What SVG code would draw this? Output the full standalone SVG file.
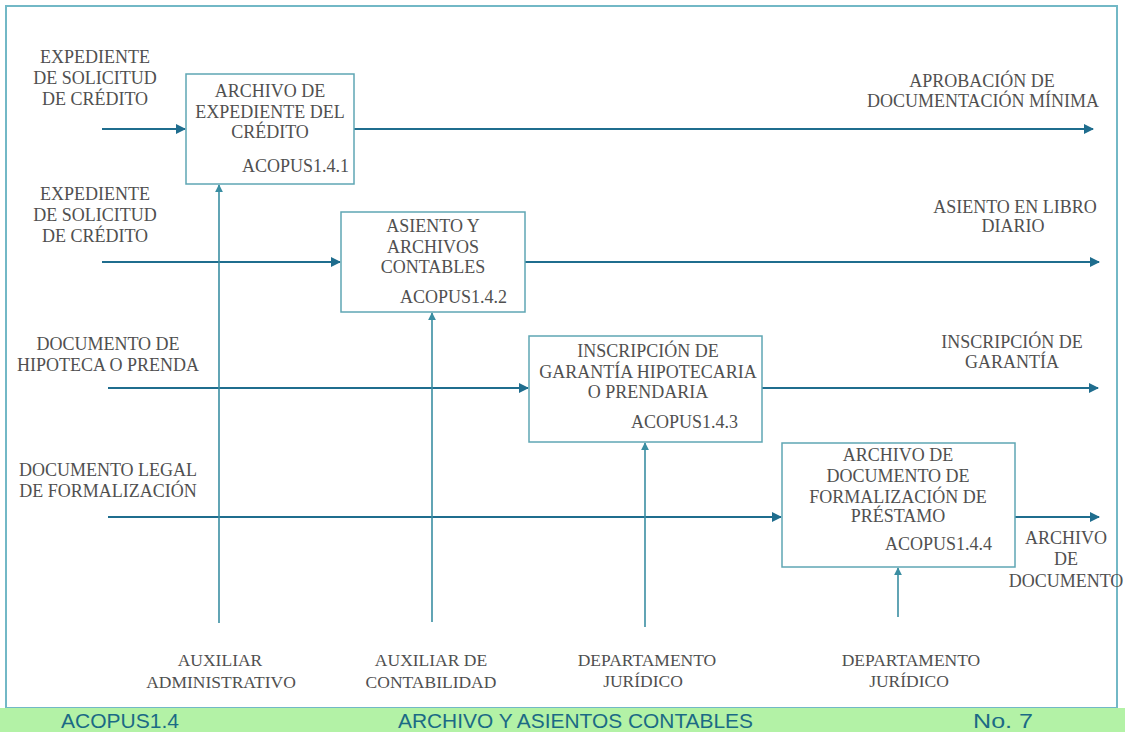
<svg xmlns="http://www.w3.org/2000/svg" width="1125" height="732" viewBox="0 0 1125 732">
  <defs>
    <style>
      .lbl { font-family: "Liberation Serif", "Times New Roman", serif; font-size: 18px; fill: #505050; text-anchor: middle; }
      .lbl-s { font-family: "Liberation Serif", "Times New Roman", serif; font-size: 17.5px; fill: #505050; text-anchor: middle; }
      .code { font-family: "Liberation Serif", "Times New Roman", serif; font-size: 18px; fill: #505050; text-anchor: end; }
      .box { fill: #ffffff; stroke: #5fa6b4; stroke-width: 1.5; }
      .flow { stroke: #1f6d8e; stroke-width: 2; fill: none; }
      .mech { stroke: #3a8ea2; stroke-width: 1.6; fill: none; }
      .foot { font-family: "Liberation Sans", Arial, sans-serif; font-size: 21px; fill: #1b6a85; }
    </style>
    <marker id="arrow" viewBox="0 0 10 10" refX="9" refY="5" markerWidth="5" markerHeight="5" orient="auto" markerUnits="strokeWidth">
      <path d="M0,0 L10,5 L0,10 z" fill="#1f6d8e"/>
    </marker>
    <marker id="arrow-up" viewBox="0 0 10 10" refX="9" refY="5" markerWidth="5" markerHeight="5" orient="auto" markerUnits="strokeWidth">
      <path d="M0,0 L10,5 L0,10 z" fill="#3a8ea2"/>
    </marker>
  </defs>

  <rect x="0" y="0" width="1125" height="732" fill="#ffffff"/>

  <!-- outer frame -->
  <rect x="6" y="6" width="1111" height="702" fill="none" stroke="#72b8c6" stroke-width="2"/>

  <!-- footer band -->
  <g id="footer">
    <rect x="0" y="708" width="1125" height="24" fill="#b3f2a6"/>
    <text class="foot" x="61" y="728" textLength="118" lengthAdjust="spacingAndGlyphs">ACOPUS1.4</text>
    <text class="foot" x="398" y="728" textLength="355" lengthAdjust="spacingAndGlyphs">ARCHIVO Y ASIENTOS CONTABLES</text>
    <text class="foot" x="973" y="728" textLength="60" lengthAdjust="spacingAndGlyphs">No. 7</text>
  </g>

  <!-- connectors -->
  <g id="connectors">
    <!-- inputs -->
    <line class="flow" x1="102" y1="129" x2="185" y2="129" marker-end="url(#arrow)"/>
    <line class="flow" x1="102" y1="262" x2="340" y2="262" marker-end="url(#arrow)"/>
    <line class="flow" x1="108" y1="388" x2="528" y2="388" marker-end="url(#arrow)"/>
    <line class="flow" x1="108" y1="517" x2="781" y2="517" marker-end="url(#arrow)"/>
    <!-- outputs -->
    <line class="flow" x1="354" y1="129" x2="1093" y2="129" marker-end="url(#arrow)"/>
    <line class="flow" x1="525" y1="262" x2="1099" y2="262" marker-end="url(#arrow)"/>
    <line class="flow" x1="762" y1="388" x2="1098" y2="388" marker-end="url(#arrow)"/>
    <line class="flow" x1="1015" y1="517" x2="1099" y2="517" marker-end="url(#arrow)"/>
    <!-- mechanisms -->
    <line class="mech" x1="219" y1="623" x2="219" y2="185" marker-end="url(#arrow-up)"/>
    <line class="mech" x1="432" y1="622" x2="432" y2="313" marker-end="url(#arrow-up)"/>
    <line class="mech" x1="645" y1="627" x2="645" y2="443" marker-end="url(#arrow-up)"/>
    <line class="mech" x1="898" y1="617" x2="898" y2="568" marker-end="url(#arrow-up)"/>
  </g>

  <!-- input labels -->
  <g id="in-1">
    <text class="lbl" x="95" y="63">EXPEDIENTE</text>
    <text class="lbl" x="95" y="84">DE SOLICITUD</text>
    <text class="lbl" x="95" y="105">DE CRÉDITO</text>
  </g>
  <g id="in-2">
    <text class="lbl" x="95" y="200">EXPEDIENTE</text>
    <text class="lbl" x="95" y="221">DE SOLICITUD</text>
    <text class="lbl" x="95" y="242">DE CRÉDITO</text>
  </g>
  <g id="in-3">
    <text class="lbl" x="108" y="350">DOCUMENTO DE</text>
    <text class="lbl" x="108" y="371">HIPOTECA O PRENDA</text>
  </g>
  <g id="in-4">
    <text class="lbl" x="108" y="476">DOCUMENTO LEGAL</text>
    <text class="lbl" x="108" y="497">DE FORMALIZACIÓN</text>
  </g>

  <!-- activity boxes -->
  <g id="box-1-4-1">
    <rect class="box" x="186" y="74" width="168" height="110"/>
    <text class="lbl" x="270" y="97">ARCHIVO DE</text>
    <text class="lbl" x="270" y="118">EXPEDIENTE DEL</text>
    <text class="lbl" x="270" y="138">CRÉDITO</text>
    <text class="code" x="349" y="172">ACOPUS1.4.1</text>
  </g>
  <g id="box-1-4-2">
    <rect class="box" x="341" y="212" width="184" height="100"/>
    <text class="lbl" x="433" y="232">ASIENTO Y</text>
    <text class="lbl" x="433" y="253">ARCHIVOS</text>
    <text class="lbl" x="433" y="273">CONTABLES</text>
    <text class="code" x="507" y="303">ACOPUS1.4.2</text>
  </g>
  <g id="box-1-4-3">
    <rect class="box" x="529" y="336" width="233" height="106"/>
    <text class="lbl" x="648" y="357">INSCRIPCIÓN DE</text>
    <text class="lbl" x="648" y="378">GARANTÍA HIPOTECARIA</text>
    <text class="lbl" x="648" y="398">O PRENDARIA</text>
    <text class="code" x="738" y="428">ACOPUS1.4.3</text>
  </g>
  <g id="box-1-4-4">
    <rect class="box" x="782" y="443" width="233" height="124"/>
    <text class="lbl" x="898" y="461">ARCHIVO DE</text>
    <text class="lbl" x="898" y="482">DOCUMENTO DE</text>
    <text class="lbl" x="898" y="503">FORMALIZACIÓN DE</text>
    <text class="lbl" x="898" y="522">PRÉSTAMO</text>
    <text class="code" x="992" y="550">ACOPUS1.4.4</text>
  </g>

  <!-- output labels -->
  <g id="out-1">
    <text class="lbl" x="982" y="87">APROBACIÓN DE</text>
    <text class="lbl" x="983" y="107">DOCUMENTACIÓN MÍNIMA</text>
  </g>
  <g id="out-2">
    <text class="lbl" x="1015" y="213">ASIENTO EN LIBRO</text>
    <text class="lbl" x="1013" y="232">DIARIO</text>
  </g>
  <g id="out-3">
    <text class="lbl" x="1012" y="348">INSCRIPCIÓN DE</text>
    <text class="lbl" x="1012" y="368">GARANTÍA</text>
  </g>
  <g id="out-4">
    <text class="lbl" x="1066" y="544">ARCHIVO</text>
    <text class="lbl" x="1066" y="565">DE</text>
    <text class="lbl" x="1066" y="587">DOCUMENTO</text>
  </g>

  <!-- mechanism labels -->
  <g id="mech-1">
    <text class="lbl-s" x="220" y="666">AUXILIAR</text>
    <text class="lbl-s" x="221" y="688">ADMINISTRATIVO</text>
  </g>
  <g id="mech-2">
    <text class="lbl-s" x="431" y="666">AUXILIAR DE</text>
    <text class="lbl-s" x="431" y="688">CONTABILIDAD</text>
  </g>
  <g id="mech-3">
    <text class="lbl-s" x="647" y="666">DEPARTAMENTO</text>
    <text class="lbl-s" x="643" y="687">JURÍDICO</text>
  </g>
  <g id="mech-4">
    <text class="lbl-s" x="911" y="666">DEPARTAMENTO</text>
    <text class="lbl-s" x="909" y="687">JURÍDICO</text>
  </g>
</svg>
